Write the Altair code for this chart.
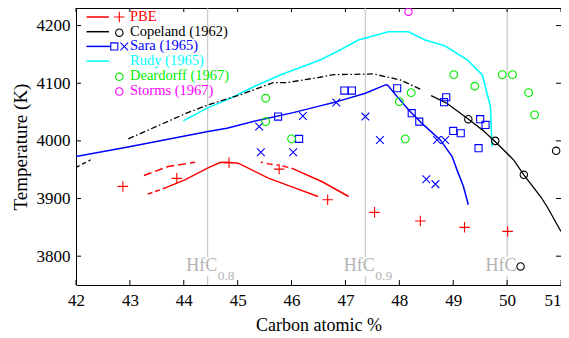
import altair as alt
import pandas as pd

# ---------------- data (carbon atomic %, temperature K) ----------------
pbe_x = [42.87, 43.87, 44.84, 45.77, 46.67, 47.54, 48.39, 49.21, 50.01]
pbe_T = [3921, 3935, 3962, 3951, 3898, 3876, 3861, 3850, 3843]

pbe_low_dash_x = [43.33, 43.61]
pbe_low_dash_T = [3907.6, 3916.8]
pbe_low_x = [43.61, 44.02, 44.44, 44.67, 44.80, 45.01, 45.57, 46.07, 46.49]
pbe_low_T = [3916.8, 3932.4, 3952.7, 3962.4, 3963.1, 3961.4, 3935.4, 3918.1, 3903.5]
pbe_upl_x = [43.26, 43.71, 44.21]
pbe_upl_T = [3939.9, 3955.5, 3963.1]
pbe_upr_dash_x = [45.43, 45.57, 45.82, 46.00]
pbe_upr_dash_T = [3963.1, 3960.1, 3956.7, 3952.7]
pbe_upr_x = [46.00, 46.56, 47.06]
pbe_upr_T = [3952.7, 3929.5, 3903.5]

cop_d1_x = [42.0, 42.27]
cop_d1_T = [3954, 3967]
cop_dd_x = [42.97, 44.05, 44.45, 45.04, 45.66, 45.91, 46.53, 46.78, 47.52, 48.02, 48.39]
cop_dd_T = [4003.5, 4048, 4062.4, 4079.7, 4101, 4101, 4110.4, 4114.9, 4116.1, 4105.7, 4089.6]
cop_s_x = [48.59, 48.88, 49.26, 49.54, 49.81, 50.12, 50.31, 50.62, 50.74, 51.0]
cop_s_T = [4078.5, 4065.3, 4039.3, 4019.1, 3996, 3967.1, 3941.1, 3903.5, 3886.2, 3842.8]
cop_c_x = [49.28, 49.78, 50.31, 50.91, 50.25]
cop_c_T = [4037.6, 4000, 3941.1, 3982.7, 3782.2]

sara_x = [42.0, 42.94, 44.45, 44.80, 45.41, 46.03, 46.53, 46.78, 47.37, 47.74, 47.78,
          47.96, 48.20, 48.45, 48.76, 48.98, 49.07, 49.19, 49.28]
sara_T = [3972.8, 3989.1, 4016.1, 4022, 4036.4, 4049, 4060.7, 4066.4, 4082.7, 4097.1, 4097.1,
          4076.8, 4050.8, 4027.7, 4001.7, 3972.8, 3949.7, 3920.8, 3889.1]
sara_sq_x = [45.75, 46.14, 46.98, 47.12, 47.96, 48.23, 48.37, 48.87, 48.83, 49.00, 49.14,
             49.50, 49.60, 49.47]
sara_sq_T = [4042.1, 4003.5, 4087.2, 4087.2, 4091.3, 4048, 4033.4, 4075.7, 4067.1, 4017.3,
             4013.3, 4037.6, 4027.7, 3987.3]
sara_x_x = [45.40, 45.43, 46.03, 46.21, 46.83, 47.37, 47.64, 48.70, 48.85, 48.50, 48.67]
sara_x_T = [4024.8, 3980.4, 3980.4, 4043.3, 4066.4, 4042.1, 4001.7, 4001.7, 4001.7,
            3933.6, 3925.0]

rudy_x = [43.99, 44.45, 44.80, 45.41, 45.79, 46.53, 46.90, 47.24, 47.80, 48.17, 48.48,
          48.85, 49.26, 49.54, 49.69, 49.72]
rudy_T = [4034.7, 4057.7, 4071.1, 4098.8, 4114.4, 4140.4, 4157.7, 4175, 4189.4, 4189.4,
          4175, 4164.6, 4140.4, 4114.4, 4059.4, 3990.1]

dear_x = [45.52, 45.52, 46.00, 48.22, 48.00, 48.11, 49.01, 49.40, 49.91, 50.10, 50.40, 50.51]
dear_T = [4074, 4033.4, 4003.5, 4083.7, 4068.1, 4003.5, 4114.9, 4094.8, 4114.9, 4114.9,
          4083.7, 4045.1]

storms_x = [48.17]
storms_T = [4224.1]

phase_x = [44.444, 47.368, 50.0]
phase_main = ["HfC", "HfC", "HfC"]
phase_sub = ["0.8", "0.9", ""]

x_ticks = [42, 43, 44, 45, 46, 47, 48, 49, 50, 51]
y_ticks = [3800, 3900, 4000, 4100, 4200]

legend_labels = ["PBE", "Copeland (1962)", "Sara (1965)", "Rudy (1965)",
                 "Deardorff (1967)", "Storms (1967)"]

# ---------------- styling ----------------
RED, BLACK, BLUE, CYAN, GREEN, MAG = "#ff0000", "#000000", "#0000ff", "#00ffff", "#00ee00", "#ff00ff"
GRAY = "#bdbdbd"
FONT = "Liberation Serif"
W, H = 485, 277
PLUS = "M-1,0L1,0M0,-1L0,1"
XSH = "M-1,-1L1,1M-1,1L1,-1"

xscale = alt.Scale(domain=[42, 51], nice=False, zero=False)
yscale = alt.Scale(domain=[3750, 4230.5], nice=False, zero=False)
xaxis = alt.Axis(values=x_ticks, format="d", title="Carbon atomic %", labelPadding=7,
                 titlePadding=8,
                 labelAlign={"condition": {"test": "datum.value == 51", "value": "right"},
                             "value": "center"})
yaxis = alt.Axis(values=y_ticks, format="d", title="Temperature (K)", labelPadding=6,
                 titlePadding=6)
X = alt.X("x:Q", scale=xscale, axis=xaxis)
Y = alt.Y("T:Q", scale=yscale, axis=yaxis)


def df(xs, ts):
    return pd.DataFrame({"x": xs, "T": ts})


def line(xs, ts, color, dash=None, width=1.5):
    kw = dict(color=color, strokeWidth=width, clip=True)
    if dash:
        kw["strokeDash"] = dash
    return alt.Chart(df(xs, ts)).mark_line(**kw).encode(x=X, y=Y, order=alt.Order("x:Q"))


def pts(xs, ts, color, shape, size):
    return alt.Chart(df(xs, ts)).mark_point(shape=shape, size=size, filled=False, stroke=color,
                                            strokeWidth=1.1, opacity=1, clip=True).encode(x=X, y=Y)


layers = []

# phase reference lines (broken where the labels sit)
pdf = pd.DataFrame({"x": phase_x, "main": phase_main, "sub": phase_sub})
layers.append(alt.Chart(pdf).mark_rule(color=GRAY, strokeWidth=1).encode(
    x=X, y=alt.value(0), y2=alt.value(249)))
layers.append(alt.Chart(pdf).mark_rule(color=GRAY, strokeWidth=1).encode(
    x=X, y=alt.value(268), y2=alt.value(H)))
layers.append(alt.Chart(pdf).mark_text(font=FONT, fontSize=18, color="#b3b3b3", align="center",
                                       baseline="alphabetic", dx=-6).encode(
    x=X, y=alt.value(263), text="main:N"))
layers.append(alt.Chart(pdf).mark_text(font=FONT, fontSize=13.5, color="#b3b3b3", align="left",
                                       baseline="alphabetic", dx=10).encode(
    x=X, y=alt.value(272), text="sub:N"))

# curves
layers += [
    line(rudy_x, rudy_T, CYAN, width=1.6),
    line(cop_d1_x, cop_d1_T, BLACK, dash=[4, 3], width=1.3),
    line(cop_dd_x, cop_dd_T, BLACK, dash=[6, 2.5, 1.5, 2.5], width=1.3),
    line(cop_s_x, cop_s_T, BLACK, width=1.3),
    line(sara_x, sara_T, BLUE, width=1.5),
    line(pbe_low_dash_x, pbe_low_dash_T, RED, dash=[5, 3], width=1.5),
    line(pbe_low_x, pbe_low_T, RED, width=1.5),
    line(pbe_upl_x, pbe_upl_T, RED, dash=[8, 4], width=1.5),
    line(pbe_upr_dash_x, pbe_upr_dash_T, RED, dash=[2, 4, 6, 4], width=1.5),
    line(pbe_upr_x, pbe_upr_T, RED, width=1.5),
]

# markers
layers += [
    pts(pbe_x, pbe_T, RED, PLUS, 110),
    pts(cop_c_x, cop_c_T, BLACK, "circle", 55),
    pts(sara_sq_x, sara_sq_T, BLUE, "square", 50),
    pts(sara_x_x, sara_x_T, BLUE, XSH, 60),
    pts(dear_x, dear_T, GREEN, "circle", 60),
    pts(storms_x, storms_T, MAG, "circle", 55),
]

# inward ticks on all four sides
xt = pd.DataFrame({"x": x_ticks})
yt = pd.DataFrame({"T": y_ticks})
layers += [
    alt.Chart(xt).mark_rule(color="black", strokeWidth=1).encode(x=X, y=alt.value(H), y2=alt.value(H - 5)),
    alt.Chart(xt).mark_rule(color="black", strokeWidth=1).encode(x=X, y=alt.value(0), y2=alt.value(4)),
    alt.Chart(yt).mark_rule(color="black", strokeWidth=1).encode(y=Y, x=alt.value(0), x2=alt.value(5)),
    alt.Chart(yt).mark_rule(color="black", strokeWidth=1).encode(y=Y, x=alt.value(W), x2=alt.value(W - 5)),
]

# hand-built legend (top-left)
one = pd.DataFrame({"k": [0]})
row_y = [9, 23.7, 38.4, 53.1, 67.8, 82.5]
row_col = [RED, BLACK, BLUE, CYAN, GREEN, MAG]
for i, (lab, col) in enumerate(zip(legend_labels, row_col)):
    yy = row_y[i]
    layers.append(alt.Chart(one).mark_text(font=FONT, fontSize=14.5, color=col, align="left",
                                           baseline="middle", text=lab).encode(
        x=alt.value(54), y=alt.value(yy)))
    if i in (0, 1, 2, 3):
        layers.append(alt.Chart(one).mark_rule(color=col, strokeWidth=1.5).encode(
            x=alt.value(10.5), x2=alt.value(33 if i != 2 else 35), y=alt.value(yy)))
    if i == 0:
        layers.append(alt.Chart(one).mark_point(shape=PLUS, size=110, filled=False, stroke=col,
                                                strokeWidth=1.1, opacity=1).encode(
            x=alt.value(43.3), y=alt.value(yy)))
    if i in (1, 4, 5):
        layers.append(alt.Chart(one).mark_point(shape="circle", size=55, filled=False, stroke=col,
                                                strokeWidth=1.1, opacity=1).encode(
            x=alt.value(43.3), y=alt.value(yy + 1)))
    if i == 2:
        layers.append(alt.Chart(one).mark_point(shape="square", size=50, filled=False, stroke=col,
                                                strokeWidth=1.1, opacity=1).encode(
            x=alt.value(38.3), y=alt.value(yy)))
        layers.append(alt.Chart(one).mark_point(shape=XSH, size=60, filled=False, stroke=col,
                                                strokeWidth=1.1, opacity=1).encode(
            x=alt.value(48.3), y=alt.value(yy)))

chart = alt.layer(*layers).properties(
    width=W, height=H,
    autosize=alt.AutoSizeParams(type="none"),
    padding={"left": 68, "top": 0, "right": 0, "bottom": 50},
).configure(font=FONT).configure_view(stroke="black", strokeWidth=1).configure_axis(
    ticks=False, tickSize=0, domain=False, grid=False, labelFlush=False,
    labelFont=FONT, labelFontSize=17, labelColor="black", labelFontWeight="normal",
    titleFont=FONT, titleFontSize=18, titleFontWeight="normal", titleColor="black",
).configure_axisY(titleFontSize=19)

chart.save("out.html", embed_options={"renderer": "svg", "actions": False})
